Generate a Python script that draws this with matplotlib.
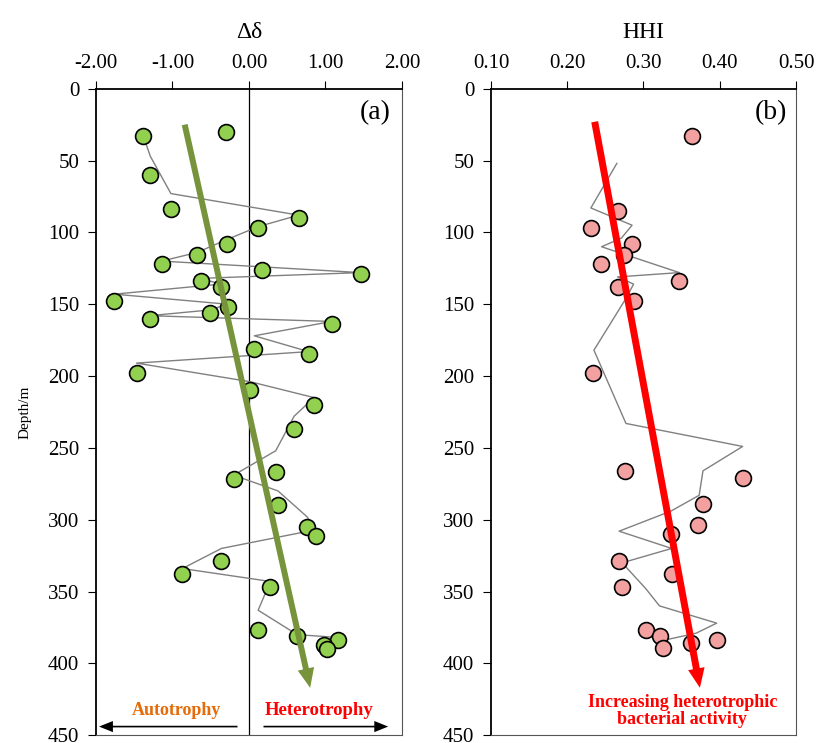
import matplotlib
matplotlib.use('Agg')
import matplotlib.pyplot as plt

plt.rcParams['font.family'] = ['Liberation Serif', 'DejaVu Serif']

# panel (a): delta-delta against depth
depth_a = [30, 33, 60, 84, 90, 97, 108, 116, 122, 126, 129, 134, 138, 148,
           152, 156, 160, 164, 181, 185, 198, 210, 220, 237, 267, 272, 290,
           305, 311, 329, 338, 347, 377, 381, 384, 387, 390]
dd = [-0.30, -1.38, -1.29, -1.02, 0.65, 0.12, -0.29, -0.68, -1.14, 0.17,
      1.46, -0.63, -0.37, -1.76, -0.28, -0.51, -1.30, 1.08, 0.07, 0.78,
      -1.47, 0.02, 0.85, 0.59, 0.35, -0.20, 0.38, 0.76, 0.87, -0.36, -0.87,
      0.28, 0.12, 0.63, 1.17, 0.98, 1.02]

line_a_x = [-1.38, -1.29, -1.02, 0.65, 0.12, -0.29, -0.68, -1.14, 0.17, 1.46,
            -0.63, -0.37, -1.76, -0.28, -0.51, -1.30, 1.08, 0.07, 0.78, -1.47,
            0.02, 0.85, 0.59, 0.35, -0.20, 0.38, 0.76, 0.87, -0.36, -0.87,
            0.28, 0.12, 0.63, 1.17, 0.98, 1.02]
line_a_d = [33, 47, 73, 88, 96, 105, 114, 120, 124, 128, 132, 136, 143, 150,
            154, 158, 162, 172, 183, 191, 204, 215, 228, 252, 269, 280, 298,
            307, 320, 334, 343, 363, 380, 382, 387, 389]

# panel (b): HHI against depth
depth_b = [33, 85, 97, 108, 116, 122, 134, 138, 148, 198, 266, 271, 289, 304,
           310, 329, 338, 347, 377, 381, 384, 386, 389]
hhi = [0.364, 0.267, 0.231, 0.285, 0.275, 0.244, 0.347, 0.266, 0.287, 0.234,
       0.276, 0.430, 0.378, 0.372, 0.336, 0.268, 0.337, 0.272, 0.303, 0.321,
       0.396, 0.362, 0.326]

line_b_x = [0.265, 0.231, 0.285, 0.271, 0.245, 0.347, 0.266, 0.287, 0.277,
            0.235, 0.277, 0.430, 0.378, 0.373, 0.336, 0.268, 0.337, 0.272,
            0.303, 0.321, 0.396, 0.369, 0.326]
line_b_d = [52, 83, 95, 104, 110, 128, 131, 136, 146, 182, 233, 249, 266, 283,
            294, 308, 320, 330, 348, 360, 372, 379, 384]

xticks_a = [-2, -1, 0, 1, 2]
xticks_b = [0.1, 0.2, 0.3, 0.4, 0.5]
yticks = [0, 50, 100, 150, 200, 250, 300, 350, 400, 450]

fig = plt.figure(figsize=(8.16, 7.43), dpi=100)
ax1 = fig.add_axes([0.1176, 0.0105, 0.375, 0.8701])
ax2 = fig.add_axes([0.6017, 0.0105, 0.3738, 0.8701])


def style_axis(ax, xticks, xlim, title):
    ax.set_xlim(xlim)
    ax.set_ylim(450, 0)
    ax.set_xticks(xticks)
    ax.set_xticklabels(['%.2f' % t for t in xticks])
    ax.set_yticks(yticks)
    ax.xaxis.tick_top()
    ax.xaxis.set_label_position('top')
    ax.tick_params(axis='x', labelsize=15, length=6, direction='out', pad=5)
    ax.tick_params(axis='y', labelsize=15, length=6, direction='out', pad=6)
    ax.set_xlabel(title, fontsize=17, labelpad=12)
    ax.spines['top'].set_linewidth(1.3)
    ax.spines['left'].set_linewidth(1.3)
    ax.spines['right'].set_color('#555555')
    ax.spines['bottom'].set_color('#555555')


style_axis(ax1, xticks_a, (-2, 2), 'Δδ')
style_axis(ax2, xticks_b, (0.1, 0.5), 'HHI')
ax1.set_ylabel('Depth/m', fontsize=11, labelpad=12)


def trend_arrow(ax, start, end, color, width):
    ax.annotate('', xy=end, xytext=start,
                arrowprops=dict(width=width, headwidth=12, headlength=14,
                                facecolor=color, edgecolor='none'),
                zorder=4)


def side_arrow(ax, start, end):
    ax.annotate('', xy=end, xytext=start,
                arrowprops=dict(width=1.2, headwidth=8, headlength=10,
                                facecolor='black', edgecolor='none'))


# panel (a)
ax1.axvline(0, color='black', lw=0.9, zorder=1)
ax1.plot(line_a_x, line_a_d, color='#808080', lw=1, zorder=2)
ax1.scatter(dd, depth_a, s=130, color='#92D050', edgecolor='black',
            linewidth=1.2, zorder=3)
trend_arrow(ax1, (-0.84, 25), (0.80, 417), '#77933C', 4.3)
ax1.text(1.85, 8, '(a)', fontsize=20, ha='right', va='top')
ax1.text(-0.95, 433, 'Autotrophy', fontsize=13, fontweight='bold',
         color='#E46C0A', ha='center', va='center')
ax1.text(0.92, 433, 'Heterotrophy', fontsize=13.5, fontweight='bold',
         color='#FF0000', ha='center', va='center')
side_arrow(ax1, (-0.15, 444), (-1.96, 444))
side_arrow(ax1, (0.19, 444), (1.82, 444))

# panel (b)
ax2.plot(line_b_x, line_b_d, color='#808080', lw=1, zorder=2)
ax2.scatter(hhi, depth_b, s=130, color='#F2A0A0', edgecolor='black',
            linewidth=1.2, zorder=3)
trend_arrow(ax2, (0.236, 23), (0.374, 417), '#FF0000', 5)
ax2.text(0.488, 8, '(b)', fontsize=20, ha='right', va='top')
ax2.text(0.351, 433, 'Increasing heterotrophic\nbacterial activity',
         fontsize=13, fontweight='bold', color='#FF0000', ha='center',
         va='center', linespacing=1.0)

fig.savefig('out.png', dpi=100)
